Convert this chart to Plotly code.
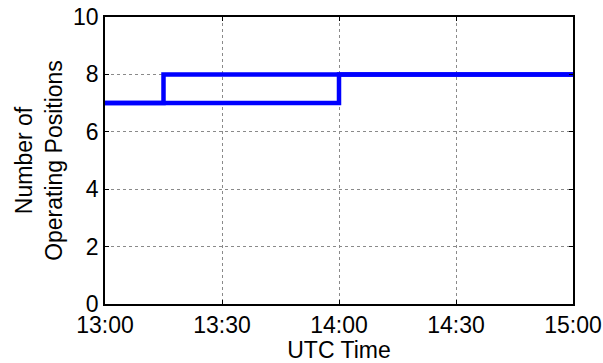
import plotly.graph_objects as go

times_a = ["2000-01-01 13:00", "2000-01-01 13:15", "2000-01-01 15:00"]
values_a = [7, 8, 8]
times_b = ["2000-01-01 13:00", "2000-01-01 14:00", "2000-01-01 15:00"]
values_b = [7, 8, 8]

x_ticks = ["2000-01-01 13:00", "2000-01-01 13:30", "2000-01-01 14:00",
           "2000-01-01 14:30", "2000-01-01 15:00"]
x_tick_labels = ["13:00", "13:30", "14:00", "14:30", "15:00"]
y_ticks = [0, 2, 4, 6, 8, 10]

fig = go.Figure()
for t, v in [(times_a, values_a), (times_b, values_b)]:
    fig.add_trace(go.Scatter(x=t, y=v, mode="lines", line_shape="hv",
                             line=dict(color="#0000ff", width=4.5),
                             showlegend=False))

font = dict(family="Liberation Sans, Arial, sans-serif", size=23, color="black")
fig.update_layout(
    width=603, height=363,
    margin=dict(l=105, r=30, t=17, b=59),
    paper_bgcolor="white", plot_bgcolor="white",
    font=font,
)
fig.update_xaxes(
    type="date", automargin=False,
    range=["2000-01-01 13:00", "2000-01-01 15:00"],
    tickvals=x_ticks, ticktext=x_tick_labels,
    showline=True, linecolor="black", linewidth=1.5, mirror="ticks",
    ticks="inside", ticklen=4, tickcolor="black",
    showgrid=True, gridcolor="#8a8a8a", griddash="dot", gridwidth=1,
    zeroline=False,
    title=dict(text="UTC Time", font=font, standoff=0),
    tickfont=font,
)
fig.update_yaxes(
    range=[0, 10], tickvals=y_ticks, automargin=False,
    showline=True, linecolor="black", linewidth=1.5, mirror="ticks",
    ticks="inside", ticklen=4, tickcolor="black",
    showgrid=True, gridcolor="#8a8a8a", griddash="dot", gridwidth=1,
    zeroline=False,
    title=dict(text="Number of<br>Operating Positions", font=font, standoff=4),
    tickfont=font,
)
fig.write_html("out.html")
